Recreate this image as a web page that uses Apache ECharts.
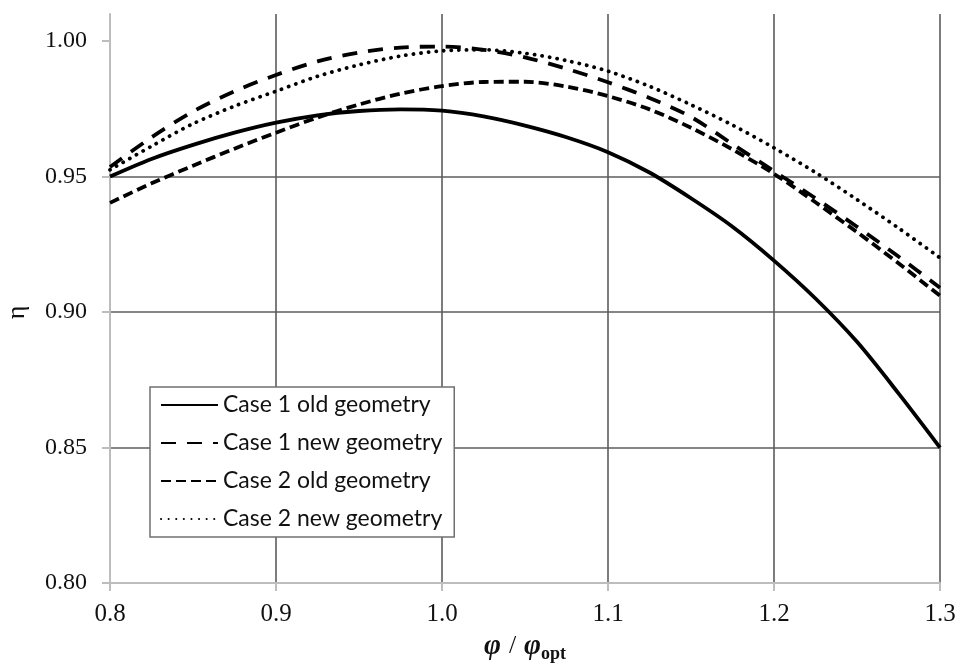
<!DOCTYPE html>
<html>
<head>
<meta charset="utf-8">
<script src="https://cdn.jsdelivr.net/npm/echarts@6/dist/echarts.min.js"></script>
<style>
  html, body { margin: 0; padding: 0; background: #fff; }
  #chart { width: 960px; height: 666px; }
</style>
</head>
<body>
<div id="chart"></div>
<script>
// Flow-rate ratio φ/φopt at which the efficiency curves are sampled
const phi = [0.800, 0.825, 0.850, 0.875, 0.900, 0.925, 0.950, 0.975, 1.000, 1.025, 1.050,
             1.075, 1.100, 1.125, 1.150, 1.175, 1.200, 1.225, 1.250, 1.275, 1.300];

// Efficiency η for each case / geometry
const case1Old = [0.9500, 0.9565, 0.9617, 0.9662, 0.9699, 0.9726, 0.9742, 0.9748, 0.9743, 0.9722, 0.9688,
                  0.9645, 0.9590, 0.9515, 0.9420, 0.9315, 0.9190, 0.9050, 0.8890, 0.8700, 0.8500];
const case1New = [0.9535, 0.9645, 0.9740, 0.9815, 0.9875, 0.9925, 0.9958, 0.9976, 0.9980, 0.9968, 0.9940,
                  0.9898, 0.9848, 0.9790, 0.9720, 0.9620, 0.9520, 0.9420, 0.9315, 0.9205, 0.9090];
const case2Old = [0.9403, 0.9475, 0.9540, 0.9603, 0.9662, 0.9718, 0.9766, 0.9806, 0.9834, 0.9849, 0.9850,
                  0.9832, 0.9797, 0.9748, 0.9680, 0.9600, 0.9510, 0.9405, 0.9295, 0.9180, 0.9060];
const case2New = [0.9525, 0.9612, 0.9695, 0.9760, 0.9815, 0.9870, 0.9912, 0.9945, 0.9964, 0.9968, 0.9955,
                  0.9928, 0.9889, 0.9833, 0.9765, 0.9690, 0.9606, 0.9515, 0.9415, 0.9310, 0.9200];

const seriesNames = ['Case 1 old geometry', 'Case 1 new geometry', 'Case 2 old geometry', 'Case 2 new geometry'];

// Tick values shown on the value axis
const yTicks = [0.80, 0.85, 0.90, 0.95, 1.00];

const pairs = ys => phi.map((x, i) => [x, ys[i]]);

const serif = '"Liberation Serif", "Times New Roman", serif';
const sans = 'Lato, "Open Sans", sans-serif';

function lineSeries(name, ys, type, cap, width) {
  return {
    name: name,
    type: 'line',
    data: pairs(ys),
    smooth: 0.3,
    showSymbol: false,
    symbol: 'none',
    color: '#000',
    itemStyle: { color: '#000' },
    lineStyle: { color: '#000', width: width, type: type, cap: cap },
    emphasis: { disabled: true }
  };
}

const chart = echarts.init(document.getElementById('chart'), null, { renderer: 'canvas' });

chart.setOption({
  animation: false,
  backgroundColor: '#fff',
  grid: { left: 110, right: 20, top: 14, bottom: 83, containLabel: false, outerBoundsMode: 'none' },
  xAxis: {
    type: 'value',
    min: 0.8,
    max: 1.3,
    interval: 0.1,
    name: '{i|φ}{n|/}{i|φ}{s|opt}',
    nameLocation: 'middle',
    nameGap: 46,
    nameTextStyle: {
      rich: {
        i: { fontFamily: serif, fontStyle: 'italic', fontWeight: 'bold', fontSize: 29, color: '#111' },
        n: { fontFamily: serif, fontSize: 26, color: '#111', padding: [0, 8, 0, 8] },
        s: { fontFamily: serif, fontWeight: 'bold', fontSize: 18, color: '#111', padding: [16, 0, 0, 0] }
      }
    },
    axisLine: { show: true, onZero: false, lineStyle: { color: '#bdbdbd', width: 2 } },
    axisTick: { show: true, length: 8, lineStyle: { color: '#bdbdbd', width: 2 } },
    axisLabel: {
      margin: 19,
      fontFamily: serif,
      fontSize: 25,
      color: '#111',
      formatter: v => v.toFixed(1)
    },
    splitLine: { show: true, showMinLine: false, lineStyle: { color: '#5c5c5c', width: 1.6 } }
  },
  yAxis: {
    type: 'value',
    min: 0.80,
    max: 1.01,
    interval: 0.05,
    name: 'η',
    nameLocation: 'middle',
    nameGap: 80,
    nameTextStyle: { fontFamily: serif, fontSize: 26, color: '#111', padding: [0, 28, 0, 0] },
    axisLine: { show: true, onZero: false, lineStyle: { color: '#bdbdbd', width: 2 } },
    axisTick: { show: true, length: 8, customValues: yTicks, lineStyle: { color: '#bdbdbd', width: 2 } },
    axisLabel: {
      margin: 23,
      fontFamily: serif,
      fontSize: 24,
      color: '#111',
      customValues: yTicks,
      formatter: v => v.toFixed(2)
    },
    splitLine: { show: true, showMinLine: false, showMaxLine: false, lineStyle: { color: '#5c5c5c', width: 1.6 } }
  },
  legend: {
    orient: 'vertical',
    left: 150,
    top: 387,
    padding: [6, 12, 6, 10],
    itemGap: 14,
    itemWidth: 57,
    itemHeight: 14,
    backgroundColor: '#fff',
    borderColor: '#707070',
    borderWidth: 1.5,
    selectedMode: false,
    data: seriesNames,
    itemStyle: { opacity: 0 },
    textStyle: { fontFamily: sans, fontSize: 23, color: '#111', lineHeight: 24 }
  },
  series: [
    lineSeries(seriesNames[0], case1Old, 'solid', 'butt', 3.8),
    lineSeries(seriesNames[1], case1New, [15, 11], 'butt', 3.8),
    lineSeries(seriesNames[2], case2Old, [10, 5], 'butt', 3.8),
    lineSeries(seriesNames[3], case2New, [0.1, 7.5], 'round', 3.8)
  ]
});
</script>
</body>
</html>
